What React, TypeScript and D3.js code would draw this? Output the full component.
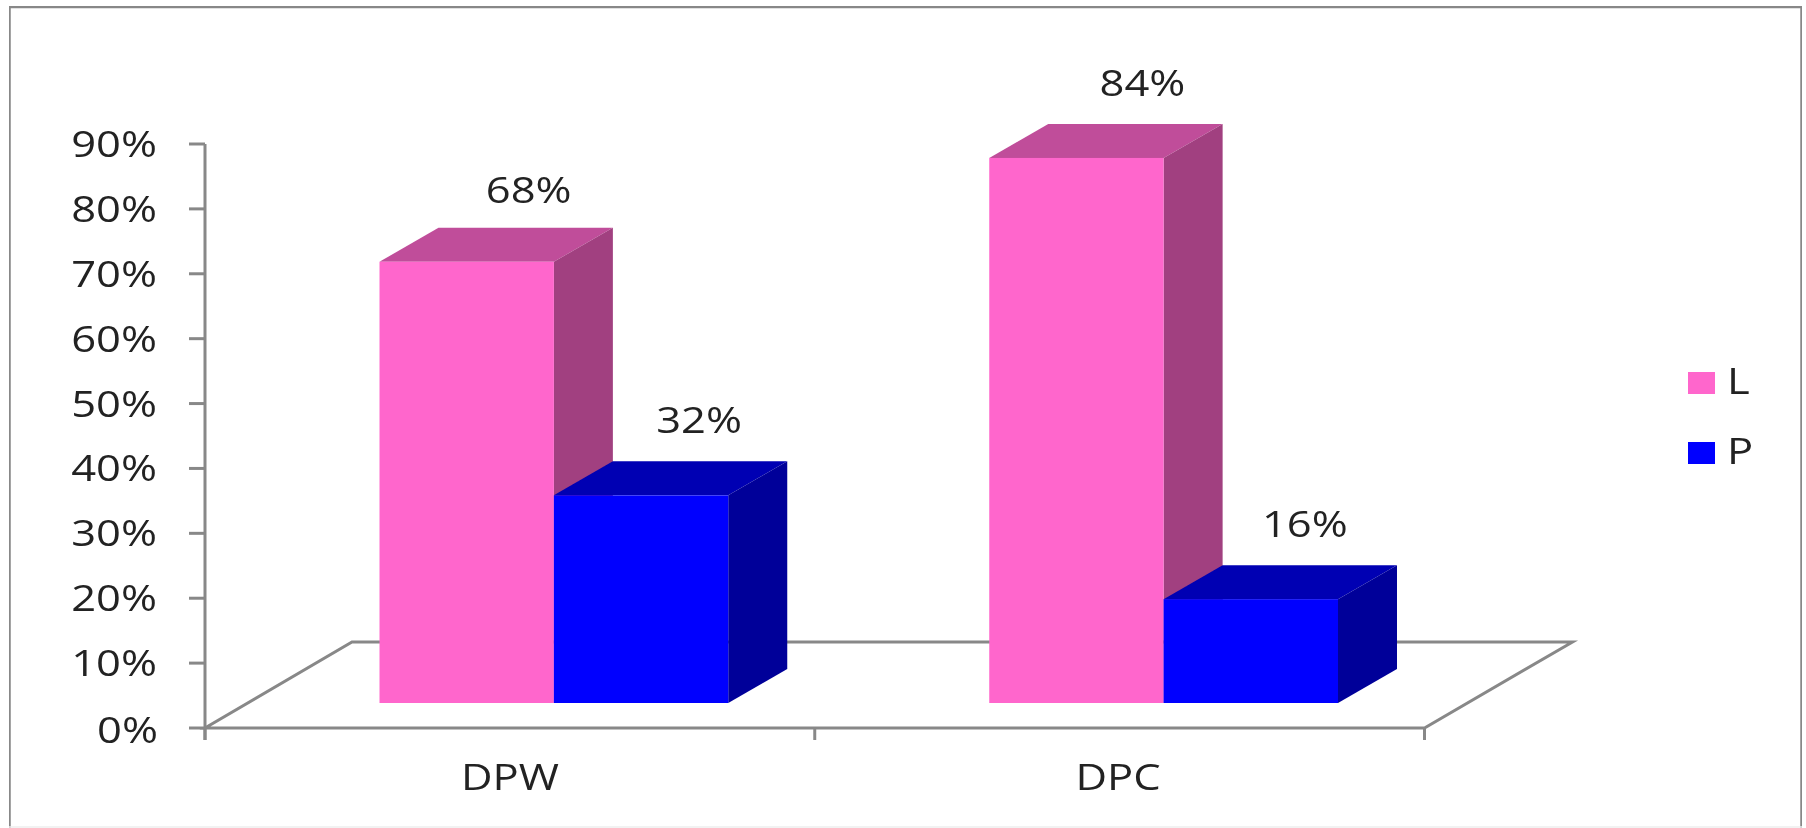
import React from "react";
import * as d3 from "d3";

const categories = ["DPW", "DPC"];
const seriesNames = ["L", "P"];
const valuesL = [68, 84];
const valuesP = [32, 16];
const yTicks = [0, 10, 20, 30, 40, 50, 60, 70, 80, 90];

const W = 1806, H = 828;
const axisX = 205, axisRight = 1424.5, y0 = 728, y90 = 144;
const floorDx = 147, floorDy = 86;   // depth of the floor
const barDx = 59, barDy = 34;        // depth of a bar
const frontDx = 44, frontDy = 25;    // bars' offset from the front edge of the floor
const GRAY = "#888888";
const FONT = "'Open Sans', 'Noto Sans', sans-serif";
const INK = "#222222";

const colours: Record<string, { front: string; top: string; side: string }> = {
  L: { front: "#FF66CC", top: "#C04D9A", side: "#A13F80" },
  P: { front: "#0000FF", top: "#0000B3", side: "#000099" },
};

const y = d3.scaleLinear().domain([0, 90]).range([y0, y90]);
const xCat = d3.scaleBand<string>().domain(categories).range([axisX, axisRight]).paddingInner(0).paddingOuter(0);
const groupPad = 130.5;
const xSeries = d3.scaleBand<string>().domain(seriesNames).range([groupPad, xCat.bandwidth() - groupPad]);

const Txt = ({ x, y, anchor = "middle", size = 36, children }: any) => (
  <text
    transform={`translate(${x},${y}) scale(1.21,1)`}
    textAnchor={anchor}
    fontFamily={FONT}
    fontSize={size}
    fill={INK}
  >
    {children}
  </text>
);

const series = [
  { name: "L", values: valuesL },
  { name: "P", values: valuesP },
];

const labelNudge: Record<string, [number, number][]> = {
  L: [[62, -59], [66, -62]],
  P: [[58, -62], [54, -62]],
};

export default function App() {
  const bw = xSeries.bandwidth();
  const baseY = y0 - frontDy;
  const floor = d3.line()([
    [axisX, y0],
    [axisRight, y0],
    [axisRight + floorDx + 1, y0 - floorDy],
    [axisX + floorDx, y0 - floorDy],
  ]) + "Z";

  return (
    <svg width={W} height={H} style={{ position: "absolute", left: 0, top: 0, background: "#fff" }}>
      <defs>
        <filter id="soft" x="0" y="0" width="100%" height="100%">
          <feGaussianBlur stdDeviation="0.6" />
        </filter>
      </defs>
      <g filter="url(#soft)">
        {/* frame */}
        <path d={`M9,${H + 4}V6.5H1802V${H + 4}`} fill="none" stroke={GRAY} strokeWidth={3.5} />
        <line x1={9} x2={1802} y1={827} y2={827} stroke="#eeeeee" strokeWidth={1.5} />

        {/* floor */}
        <path d={floor} fill="none" stroke={GRAY} strokeWidth={3} />

        {/* y axis */}
        <line x1={axisX} x2={axisX} y1={y(90)} y2={y0 + 12} stroke={GRAY} strokeWidth={3} />
        {yTicks.map((t) => (
          <g key={t}>
            <line x1={189} x2={axisX} y1={y(t)} y2={y(t)} stroke={GRAY} strokeWidth={3} />
            <Txt x={t === 0 ? 158 : 157} y={y(t) + (t === 0 ? 15 : 13)} anchor="end">{t}%</Txt>
          </g>
        ))}

        {/* x axis ticks and labels */}
        {[...xCat.domain().map((c) => xCat(c)!), axisRight].map((x) => (
          <line key={x} x1={x} x2={x} y1={y0} y2={y0 + 12} stroke={GRAY} strokeWidth={3} />
        ))}
        <Txt x={510} y={790}>{categories[0]}</Txt>
        <Txt x={1118} y={790}>{categories[1]}</Txt>

        {/* bars */}
        {categories.map((c, ci) =>
          series.map((s) => {
            const x = xCat(c)! + xSeries(s.name)! + frontDx;
            const v = s.values[ci];
            const h = y0 - y(v);
            const top = baseY - h;
            const col = colours[s.name];
            return (
              <g key={c + s.name}>
                <path
                  d={`M${x},${top}l${barDx},${-barDy}h${bw}l${-barDx},${barDy}Z`}
                  fill={col.top}
                />
                <path
                  d={`M${x + bw},${top}l${barDx},${-barDy}v${h}l${-barDx},${barDy}Z`}
                  fill={col.side}
                />
                <rect x={x} y={top} width={bw} height={h} fill={col.front} />
              </g>
            );
          })
        )}

        {/* value labels, drawn last */}
        {categories.map((c, ci) =>
          series.map((s) => {
            const x = xCat(c)! + xSeries(s.name)! + frontDx + bw / 2;
            const top = baseY - (y0 - y(s.values[ci]));
            const [dx, dy] = labelNudge[s.name][ci];
            return (
              <Txt key={c + s.name} x={x + dx} y={top + dy}>{s.values[ci]}%</Txt>
            );
          })
        )}

        {/* legend */}
        {series.map((s, i) => (
          <g key={s.name}>
            <rect x={1688} y={372 + i * 70} width={27} height={22} fill={colours[s.name].front} />
            <Txt x={1727} y={394 + i * 69.5} anchor="start">{s.name}</Txt>
          </g>
        ))}
      </g>
    </svg>
  );
}
